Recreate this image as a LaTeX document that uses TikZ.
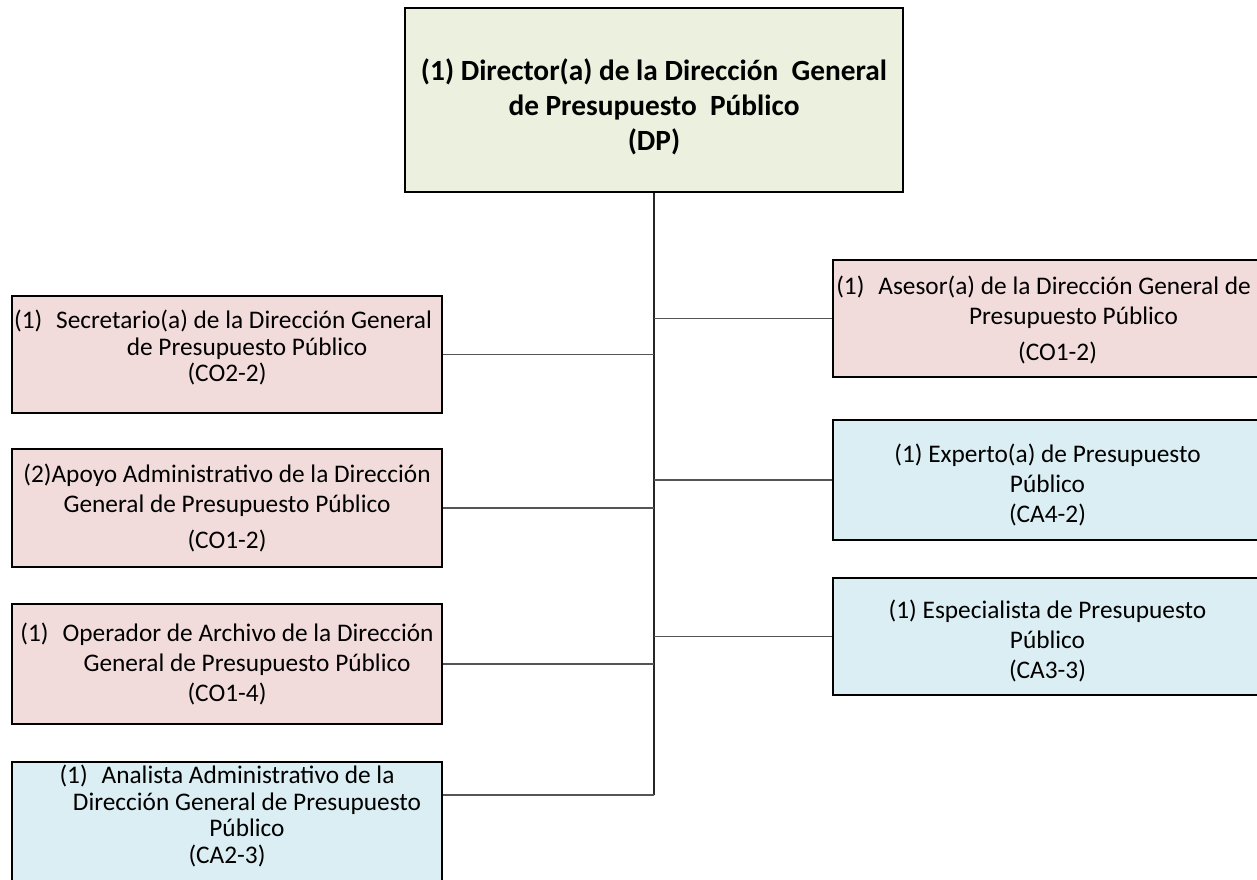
\documentclass[tikz,border=0pt]{standalone}
\usepackage{fontspec}
\setmainfont{Carlito}
\definecolor{topfill}{HTML}{EBF1DE}
\definecolor{pinkfill}{HTML}{F2DCDB}
\definecolor{bluefill}{HTML}{DBEEF3}
\definecolor{linegray}{HTML}{555555}
\begin{document}
\begin{tikzpicture}[x=0.75pt,y=-0.75pt,
  box/.style={draw=black,line width=1.5pt,inner sep=0pt},
  pinkbox/.style={box,fill=pinkfill},
  bluebox/.style={box,fill=bluefill},
  topbox/.style={box,fill=topfill},
  txt/.style={align=center,inner sep=0pt,font=\fontsize{19}{22.5}\selectfont},
  tighttxt/.style={txt,font=\fontsize{19}{19.8}\selectfont},
  titletxt/.style={align=center,inner sep=0pt,font=\fontsize{22}{26}\selectfont\bfseries},
  conn/.style={draw=linegray,line width=0.8pt},
  trunk/.style={draw=black!85,line width=1.1pt}]
\useasboundingbox (0,0) rectangle (1257,879);
\clip (0,0) rectangle (1257,879);
% top
\node[topbox,minimum width=498*0.75pt,minimum height=184*0.75pt] (top) at (654,100) {};
\node[titletxt] (topt) at ([yshift=-5pt]top.center)
  {(1) Director(a) de la Dirección\ \ General\\de Presupuesto\ \ Público\\(DP)};
% left boxes
\node[pinkbox,minimum width=430*0.75pt,minimum height=117*0.75pt] (sec) at (227,354.5) {};
\node[tighttxt] (sect) at ([yshift=5pt]sec.center)
  {\hspace*{-6pt}(1)\hspace{0.55em}Secretario(a) de la Dirección General\\\hspace*{30pt}de Presupuesto Público\\(CO2-2)};
\node[pinkbox,minimum width=430*0.75pt,minimum height=118*0.75pt] (apo) at (227,508) {};
\node[txt] (apot) at (apo.center)
  {(2)Apoyo Administrativo de la Dirección\\General de Presupuesto Público\\[4pt](CO1-2)};
\node[pinkbox,minimum width=430*0.75pt,minimum height=120*0.75pt] (ope) at (227,664) {};
\node[txt] (opet) at (ope.center)
  {(1)\hspace{0.55em}Operador de Archivo de la Dirección\\\hspace*{30pt}General de Presupuesto Público\\(CO1-4)};
\node[bluebox,minimum width=430*0.75pt,minimum height=140*0.75pt] (ana) at (227,832) {};
\node[tighttxt] (anat) at (227,816)
  {(1)\hspace{0.55em}Analista Administrativo de la\\\hspace*{30pt}Dirección General de Presupuesto\\\hspace*{30pt}Público\\(CA2-3)};
% right boxes
\node[pinkbox,minimum width=429*0.75pt,minimum height=117*0.75pt] (ase) at (1047.5,318.5) {};
\node[txt] (aset) at ([yshift=-1pt]ase.center)
  {\hspace*{-6pt}(1)\hspace{0.55em}Asesor(a) de la Dirección General de\\\hspace*{39pt}Presupuesto Público\\[4pt]\hspace*{15pt}(CO1-2)};
\node[bluebox,minimum width=429*0.75pt,minimum height=120*0.75pt] (exp) at (1047.5,480) {};
\node[txt] (expt) at ([yshift=-3.5pt]exp.center)
  {(1) Experto(a) de Presupuesto\\Público\\(CA4-2)};
\node[bluebox,minimum width=429*0.75pt,minimum height=117*0.75pt] (esp) at (1047.5,636.5) {};
\node[txt] (espt) at ([yshift=-3.5pt]esp.center)
  {(1) Especialista de Presupuesto\\Público\\(CA3-3)};
% connectors
\coordinate (tend) at (top.south |- 0,795);
\draw[trunk] (top.south) -- (tend);
\draw[conn] (sec.east) -- (sec.east -| top.south);
\draw[conn] (apo.east) -- (apo.east -| top.south);
\draw[conn] (ope.east) -- (ope.east -| top.south);
\draw[conn] (tend) -- (tend -| ana.east);
\draw[conn] (ase.west) -- (ase.west -| top.south);
\draw[conn] (exp.west) -- (exp.west -| top.south);
\draw[conn] (esp.west) -- (esp.west -| top.south);
\end{tikzpicture}
\end{document}
